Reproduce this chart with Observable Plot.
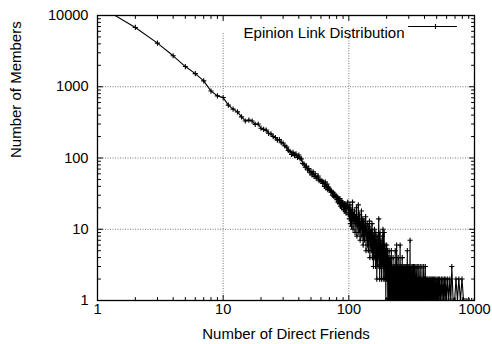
<!DOCTYPE html>
<html>
<head>
<meta charset="utf-8">
<script src="https://cdn.jsdelivr.net/npm/d3@7"></script>
<script src="https://cdn.jsdelivr.net/npm/@observablehq/plot@0.6"></script>
<style>
  html, body { margin: 0; padding: 0; background: white; }
</style>
</head>
<body>
<div id="chart"></div>
<script>
// Members per degree for consecutive degrees 1, 2, 3, ... (dense head of the distribution)
const denseCounts = [
  14000, 6800, 4100, 2720, 1920, 1530, 1210, 870, 745, 705,
  552, 485, 444, 378, 331, 340, 330, 296, 300, 262,
  252, 246, 222, 218, 200, 194, 178, 182, 164, 162,
  148, 142, 128, 124, 112, 120, 108, 114, 102, 110,
  98, 97, 84, 82, 74, 77, 68, 71, 62, 65,
  58, 64, 55, 60, 52, 54, 56, 48, 50, 47,
  48, 44, 46, 40, 46, 38, 43, 36, 39, 37,
  35, 33, 34, 30, 33, 29, 31, 28, 30, 26,
  28, 24, 27, 23, 27, 21, 25, 20, 24, 22,
  19, 23, 18, 22, 17, 21, 20, 24, 16, 20,
  14, 22, 12, 19, 11, 17, 24, 10, 16, 13,
  18, 9, 15, 12, 20, 8, 14, 11, 22, 9,
  13, 16, 7, 12, 10, 18, 8, 11, 14, 6,
  10, 13, 7, 11, 9, 15, 5, 10, 8, 12,
  6, 9, 5, 11, 7, 13, 4, 9, 6, 10,
  5, 8, 12, 4, 9, 6, 3, 8, 5, 10,
  4, 7, 3, 9, 5, 6, 2, 8, 4, 6,
  3, 7, 14, 4, 6, 2, 9, 5, 3, 7,
  4, 2, 6, 3, 8, 4, 10, 2, 5, 3,
  9, 4, 2, 6, 3, 5, 1, 4, 2, 6,
  3, 2, 5, 1, 3, 4, 2, 1, 5, 2,
  3, 1, 4, 2, 1, 3, 2, 5, 1, 2
];
// Sparse tail: degrees that still have members, and their counts
const tailDegrees = [
  221, 222, 223, 224, 225, 226, 227, 228, 229, 230,
  231, 232, 233, 234, 235, 236, 237, 238, 239, 240,
  241, 242, 243, 244, 245, 246, 247, 248, 249, 250,
  251, 252, 253, 254, 255, 256, 257, 258, 259, 260,
  261, 262, 263, 264, 265, 266, 267, 268, 269, 270,
  271, 272, 274, 275, 276, 277, 278, 279, 280, 282,
  283, 284, 285, 286, 288, 289, 290, 292, 293, 294,
  296, 297, 298, 300, 301, 303, 304, 306, 307, 308,
  310, 311, 313, 314, 316, 318, 320, 321, 323, 325,
  327, 328, 330, 332, 334, 336, 338, 340, 342, 344,
  346, 348, 350, 352, 355, 357, 360, 362, 365, 367,
  370, 373, 376, 379, 382, 385, 388, 391, 394, 397,
  400, 403, 406, 409, 412, 415, 419, 422, 426, 430,
  436, 440, 444, 449, 453, 458, 462, 466, 470, 475,
  480, 486, 492, 498, 504, 510, 516, 522, 528, 536,
  544, 552, 560, 568, 576, 584, 592, 600, 612, 624,
  636, 648, 660, 676, 695, 712, 732, 750, 773, 795,
  818, 840, 870, 905, 950, 995
];
const tailCounts = [
  3, 1, 2, 1, 4, 1, 2, 3, 1, 2,
  1, 3, 1, 5, 1, 2, 1, 3, 1, 6,
  2, 1, 3, 1, 2, 1, 4, 1, 2, 1,
  3, 1, 2, 1, 3, 6, 1, 2, 1, 3,
  1, 2, 1, 3, 1, 4, 1, 2, 1, 3,
  1, 2, 1, 3, 1, 2, 1, 3, 1, 2,
  1, 3, 1, 2, 1, 3, 1, 5, 1, 2,
  1, 3, 1, 2, 1, 3, 1, 2, 7, 1,
  2, 1, 3, 1, 2, 1, 3, 1, 2, 1,
  3, 1, 2, 1, 3, 1, 2, 1, 3, 1,
  2, 1, 3, 1, 2, 1, 3, 1, 2, 1,
  3, 1, 2, 1, 3, 1, 2, 1, 3, 1,
  2, 1, 3, 1, 2, 1, 2, 1, 2, 1,
  2, 1, 2, 1, 2, 1, 2, 1, 2, 1,
  2, 1, 2, 1, 2, 1, 2, 1, 2, 1,
  2, 1, 2, 1, 2, 1, 2, 1, 2, 1,
  2, 1, 3, 1, 1, 2, 1, 2, 1, 2,
  1, 1, 1, 1, 1, 1
];

// Axis ticks and labels
const xMajor = [1, 10, 100, 1000];
const xMajorLabels = ["1", "10", "100", "1000"];
const xMinor = [2, 3, 4, 5, 6, 7, 8, 9, 20, 30, 40, 50, 60, 70, 80, 90, 200, 300, 400, 500, 600, 700, 800, 900];
const yMajor = [1, 10, 100, 1000, 10000];
const yMajorLabels = ["1", "10", "100", "1000", "10000"];
const yMinor = [2, 3, 4, 5, 6, 7, 8, 9, 20, 30, 40, 50, 60, 70, 80, 90, 200, 300, 400, 500, 600, 700, 800, 900, 2000, 3000, 4000, 5000, 6000, 7000, 8000, 9000];
const xGrid = [10, 100];
const yGrid = [10, 100, 1000];

const seriesName = "Epinion Link Distribution";
const xTitle = "Number of Direct Friends";
const yTitle = "Number of Members";

const data = denseCounts.map((c, i) => ({degree: i + 1, members: c}))
  .concat(tailDegrees.map((d, i) => ({degree: d, members: tailCounts[i]})));

const tickShape = {draw(ctx, l) { ctx.moveTo(0, 0); ctx.lineTo(0, -l); }};
const ink = "black";

function ticks(values, anchor, rotate, len) {
  const opts = {frameAnchor: anchor, length: len, rotate, anchor: "start", shape: tickShape, stroke: ink, strokeWidth: 1};
  if (anchor === "bottom" || anchor === "top") opts.x = d => d; else opts.y = d => d;
  return Plot.vector(values, opts);
}

const chart = Plot.plot({
  width: 492,
  height: 344,
  marginLeft: 97,
  marginRight: 18,
  marginTop: 15,
  marginBottom: 44,
  x: {type: "log", domain: [1, 1000], axis: null},
  y: {type: "log", domain: [1, 10000], axis: null},
  style: {fontFamily: "'Liberation Sans', Arial, Helvetica, sans-serif", fontSize: "15px", background: "white", color: "black"},
  marks: [
    Plot.ruleX(xGrid, {stroke: "#777", strokeDasharray: "1,1.5", insetTop: 18, insetBottom: 3}),
    Plot.ruleY(yGrid, {stroke: "#777", strokeDasharray: "1,1.5", insetLeft: 3, insetRight: 3}),
    Plot.line(data, {x: "degree", y: "members", stroke: ink, strokeWidth: 1.1, clip: true}),
    Plot.dot(data, {x: "degree", y: "members", symbol: "plus", r: 1.8, stroke: ink, strokeWidth: 1.1, clip: true}),
    ticks(xMajor, "bottom", 0, 5),
    ticks(xMinor, "bottom", 0, 3),
    ticks(xMajor, "top", 180, 5),
    ticks(xMinor, "top", 180, 3),
    ticks(yMajor, "left", 90, 5),
    ticks(yMinor, "left", 90, 3),
    ticks(yMajor, "right", -90, 5),
    ticks(yMinor, "right", -90, 3),
    Plot.frame({stroke: ink, strokeWidth: 1.3}),
    Plot.text(xMajor, {x: d => d, text: (d, i) => xMajorLabels[i], frameAnchor: "bottom", dy: 13, fill: ink, fontSize: 14.6}),
    Plot.text(yMajor, {y: d => d, text: (d, i) => yMajorLabels[i], frameAnchor: "left", dx: -9, textAnchor: "end", fill: ink, fontSize: 14.6}),
    Plot.text([xTitle], {frameAnchor: "bottom", dy: 38, fill: ink, fontSize: 15}),
    Plot.text([yTitle], {frameAnchor: "left", dx: -81, rotate: -90, fill: ink, fontSize: 15}),
    Plot.text([seriesName], {frameAnchor: "top-right", dx: -70, dy: 12, textAnchor: "end", fill: ink, fontSize: 15}),
    Plot.vector([0], {frameAnchor: "top-right", dx: -18, dy: 11, length: 48, rotate: -90, anchor: "start", shape: tickShape, stroke: ink, strokeWidth: 1}),
    Plot.dot([0], {frameAnchor: "top-right", dx: -39, dy: 11, symbol: "plus", r: 1.8, stroke: ink, strokeWidth: 1.1})
  ]
});
document.getElementById("chart").appendChild(chart);
</script>
</body>
</html>
